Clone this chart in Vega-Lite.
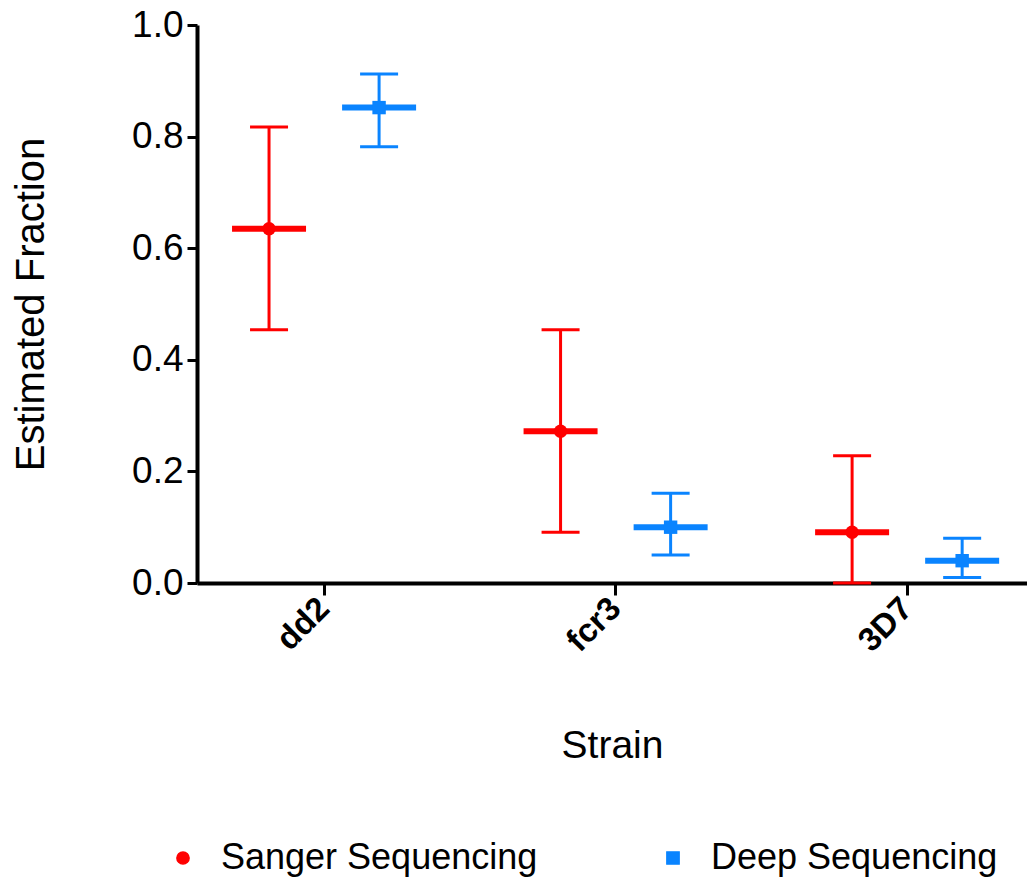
{
  "$schema": "https://vega.github.io/schema/vega-lite/v6.json",
  "width": 830,
  "height": 558,
  "autosize": {"type": "none"},
  "padding": {"left": 197, "top": 25, "right": 0, "bottom": 297},
  "config": {
    "view": {"stroke": null},
    "font": "Liberation Sans",
    "axis": {"grid": false, "domainColor": "black", "tickColor": "black", "labelColor": "black", "titleColor": "black"}
  },
  "data": {
    "values": [
      {"strain": "dd2", "method": "Sanger Sequencing", "mean": 0.635, "lower": 0.454, "upper": 0.817},
      {"strain": "dd2", "method": "Deep Sequencing", "mean": 0.852, "lower": 0.782, "upper": 0.912},
      {"strain": "fcr3", "method": "Sanger Sequencing", "mean": 0.272, "lower": 0.091, "upper": 0.454},
      {"strain": "fcr3", "method": "Deep Sequencing", "mean": 0.100, "lower": 0.050, "upper": 0.161},
      {"strain": "3D7", "method": "Sanger Sequencing", "mean": 0.091, "lower": 0.0, "upper": 0.228},
      {"strain": "3D7", "method": "Deep Sequencing", "mean": 0.040, "lower": 0.010, "upper": 0.080}
    ]
  },
  "encoding": {
    "x": {
      "field": "strain", "type": "nominal", "sort": ["dd2", "fcr3", "3D7"],
      "scale": {"paddingInner": 0.245, "paddingOuter": 0.046, "align": 0.634},
      "axis": {
        "title": "Strain", "titleFontSize": 39, "titleFontWeight": "normal", "titlePadding": 69,
        "labelAngle": -45, "labelAlign": "right", "labelBaseline": "middle", "labelFontSize": 33, "labelFontWeight": "bold",
        "labelPadding": 8, "tickSize": 12, "tickWidth": 3, "domainWidth": 4
      }
    },
    "xOffset": {
      "field": "method", "type": "nominal", "sort": ["Sanger Sequencing", "Deep Sequencing"],
      "scale": {"paddingInner": 0, "paddingOuter": 0}
    },
    "color": {
      "field": "method", "type": "nominal", "sort": ["Sanger Sequencing", "Deep Sequencing"],
      "scale": {"domain": ["Sanger Sequencing", "Deep Sequencing"], "range": ["#FF0000", "#0A84FF"]},
      "legend": {
        "title": null, "orient": "none", "direction": "horizontal", "legendX": -32, "legendY": 815,
        "labelFontSize": 36, "labelColor": "black", "labelLimit": 500, "symbolSize": 150, "columnPadding": 117, "labelOffset": 20,
        "symbolOpacity": 1
      }
    }
  },
  "layer": [
    {
      "mark": {"type": "rule", "strokeWidth": 3, "opacity": 1},
      "encoding": {
        "y": {
          "field": "lower", "type": "quantitative", "title": "Estimated Fraction",
          "scale": {"domain": [0, 1], "nice": false},
          "axis": {
            "values": [0, 0.2, 0.4, 0.6, 0.8, 1.0], "format": ".1f", "labelFontSize": 37,
            "titleFontSize": 40, "titleFontWeight": "normal", "titlePadding": 80,
            "tickSize": 10, "tickWidth": 3, "domainWidth": 4, "labelPadding": 4
          }
        },
        "y2": {"field": "upper"}
      }
    },
    {
      "mark": {"type": "tick", "size": 38, "thickness": 3, "opacity": 1},
      "encoding": {"y": {"field": "lower", "type": "quantitative", "title": "Estimated Fraction"}}
    },
    {
      "mark": {"type": "tick", "size": 38, "thickness": 3, "opacity": 1},
      "encoding": {"y": {"field": "upper", "type": "quantitative", "title": "Estimated Fraction"}}
    },
    {
      "mark": {"type": "tick", "size": 74, "thickness": 6, "opacity": 1},
      "encoding": {"y": {"field": "mean", "type": "quantitative", "title": "Estimated Fraction"}}
    },
    {
      "mark": {"type": "point", "filled": true, "size": 180, "opacity": 1},
      "encoding": {
        "y": {"field": "mean", "type": "quantitative", "title": "Estimated Fraction"},
        "shape": {"field": "method", "type": "nominal", "sort": ["Sanger Sequencing", "Deep Sequencing"], "scale": {"domain": ["Sanger Sequencing", "Deep Sequencing"], "range": ["circle", "square"]}}
      }
    }
  ]
}
